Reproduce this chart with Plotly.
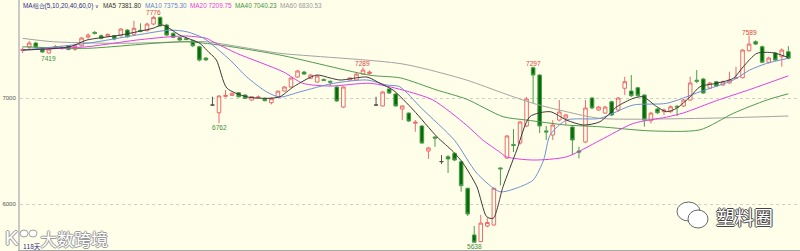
import plotly.graph_objects as go
import numpy as np

# ---------------- data ----------------
opens = [7448, 7481, 7519, 7472, 7425, 7478, 7468, 7493, 7459, 7493,
         7575, 7620, 7588, 7585, 7588, 7588, 7641, 7601, 7640, 7635,
         7698, 7761, 7689, 7610, 7569, 7560, 7541, 7484, 7377, 6934,
         6861, 7015, 7025, 7050, 7028, 6981, 7003, 6997, 6956, 7010,
         7066, 7104, 7198, 7245, 7186, 7151, 7175, 7158, 7104, 6915,
         7170, 7170, 7226, 7231, 6934, 6925, 7085, 7038, 6896, 6858,
         6762, 6736, 6500, 6632, 6400, 6446, 6478, 6399, 6148, 5708,
         5645, 5792, 5802, 6340, 6434, 6562, 6575, 6736, 7286, 7217,
         6690, 6651, 6792, 6811, 6726, 6500, 6585, 7000, 6887, 6858,
         6965, 6887, 7092, 7066, 7097, 7028, 6786, 6896, 6871, 6871,
         6922, 6925, 6981, 7168, 7179, 7094, 7154, 7123, 7142, 7186,
         7192, 7446, 7531, 7484, 7337, 7425, 7390, 7437]
highs = [7480, 7538, 7530, 7480, 7472, 7500, 7490, 7500, 7510, 7575,
         7610, 7630, 7600, 7610, 7595, 7660, 7650, 7729, 7705, 7710,
         7776, 7770, 7700, 7620, 7575, 7570, 7550, 7495, 7385, 7012,
         7025, 7075, 7050, 7055, 7035, 7018, 7025, 7005, 7003, 7070,
         7112, 7195, 7265, 7255, 7225, 7215, 7185, 7165, 7110, 7110,
         7195, 7235, 7289, 7260, 7012, 7065, 7090, 7045, 6930, 6865,
         6792, 6745, 6540, 6640, 6462, 6460, 6485, 6410, 6155, 5792,
         5896, 5865, 6155, 6345, 6650, 6707, 6785, 7010, 7297, 7225,
         6736, 6792, 6981, 6850, 6735, 6540, 6981, 7010, 6925, 6925,
         6975, 7010, 7201, 7217, 7105, 7035, 6870, 6905, 6900, 6930,
         6934, 6990, 7201, 7264, 7190, 7150, 7160, 7165, 7248, 7295,
         7460, 7589, 7545, 7495, 7390, 7435, 7469, 7490]
lows = [7425, 7462, 7470, 7425, 7419, 7465, 7455, 7450, 7445, 7488,
        7560, 7600, 7555, 7575, 7545, 7580, 7570, 7590, 7620, 7630,
        7690, 7675, 7585, 7565, 7540, 7545, 7480, 7345, 7350, 6930,
        6762, 7005, 7020, 7005, 6990, 6975, 6995, 6968, 6940, 7000,
        7060, 7100, 7190, 7220, 7180, 7145, 7160, 7115, 6965, 6905,
        7165, 7165, 7220, 7220, 6930, 6920, 7040, 6920, 6792, 6775,
        6682, 6570, 6425, 6540, 6377, 6293, 6405, 6116, 5887, 5638,
        5640, 5780, 5795, 6175, 6425, 6490, 6560, 6725, 6953, 6670,
        6604, 6604, 6780, 6745, 6462, 6430, 6575, 6895, 6880, 6850,
        6830, 6870, 7028, 7010, 7015, 6730, 6760, 6850, 6840, 6860,
        6830, 6915, 6975, 7140, 7040, 7085, 7105, 7115, 7135, 7180,
        7185, 7440, 7500, 7330, 7325, 7350, 7295, 7365]
closes = [7458, 7519, 7481, 7434, 7462, 7484, 7476, 7459, 7493, 7566,
          7594, 7610, 7563, 7600, 7557, 7651, 7578, 7658, 7630, 7698,
          7761, 7682, 7594, 7573, 7547, 7552, 7493, 7358, 7360, 6934,
          7019, 7025, 7045, 7012, 6997, 7012, 7010, 6975, 6997, 7065,
          7104, 7189, 7255, 7226, 7217, 7208, 7165, 7150, 6972, 7104,
          7189, 7226, 7264, 7245, 6934, 7057, 7047, 6925, 6925, 6783,
          6772, 6575, 6528, 6622, 6400, 6425, 6415, 6173, 5906, 5640,
          5820, 5825, 6148, 6332, 6642, 6552, 6774, 6991, 7217, 6736,
          6680, 6745, 6868, 6840, 6604, 6490, 6906, 6906, 6915, 6915,
          6840, 7000, 7154, 7022, 7022, 6792, 6858, 6861, 6887, 6918,
          6915, 6981, 7142, 7158, 7047, 7142, 7113, 7154, 7170, 7192,
          7453, 7509, 7509, 7337, 7377, 7358, 7453, 7375]
doji_days = [29, 54, 64]

ma5_days = [0, 7.2, 9.8, 14.9, 19.9, 21.4, 24.0, 27.1, 28.1, 29.6, 31.2, 34.2,
            37.3, 39.3, 41.4, 44.9, 47.0, 48.5, 52.6, 54.6, 56.6, 59.7, 63.3,
            65.8, 67.3, 69.4, 70.9, 71.9, 73.4, 75.5, 77.5, 80.6, 83.1, 85.7,
            88.2, 90.8, 93.3, 94.8, 96.9, 98.4, 99.9, 102.0, 103.5, 106.0,
            108.6, 110.1, 112.2, 114.7, 117]
ma5_vals = [7453, 7484, 7547, 7594, 7658, 7689, 7594, 7515, 7453, 7358, 7094, 7012,
            6997, 7012, 7107, 7217, 7189, 7170, 7198, 7139, 7075, 6887, 6635,
            6493, 6384, 6163, 5880, 5865, 6163, 6509, 6824, 6871, 6792, 6745,
            6776, 6918, 6997, 7012, 6918, 6871, 6903, 7012, 7107, 7139,
            7186, 7295, 7422, 7427, 7381.8]

ma10_days = [0, 9.8, 17.4, 22.5, 25.1, 27.6, 31.7, 34.2, 37.3, 39.3, 42.4, 47.5,
             52.6, 55.6, 57.6, 61.0, 66.0, 69.4, 72.9, 75.5, 78.0, 79.6, 80.6,
             83.1, 88.2, 93.3, 98.4, 103.5, 108.6, 111.1, 113.7, 117]
ma10_vals = [7453, 7516, 7594, 7641, 7625, 7566, 7358, 7201, 7057, 7009, 7059, 7139,
             7170, 7123, 7107, 6900, 6600, 6290, 6116, 6151, 6226, 6415, 6651,
             6792, 6808, 6934, 6950, 7059, 7170, 7264, 7327, 7375.3]

ma20_days = [0, 9.8, 17.4, 22.5, 25.1, 28.1, 29.1, 32.7, 39.8, 42.8, 47.0, 53.1,
             58.1, 62.7, 67.8, 70.3, 72.9, 73.9, 78.0, 83.1, 88.2, 93.3, 98.4,
             101.0, 106.0, 111.1, 117]
ma20_vals = [7453, 7484, 7547, 7578, 7585, 7563, 7531, 7422, 7248, 7139, 7113, 7139,
             7075, 6981, 6745, 6604, 6490, 6445, 6415, 6445, 6600, 6760, 6820,
             6860, 6975, 7080, 7209.75]

ma40_days = [0, 9.8, 20.0, 25.1, 30.1, 39.3, 53.1, 57.7, 63.3, 67.8, 73.4, 77.0,
             83.1, 88.2, 95.9, 103.5, 108.6, 113.7, 117]
ma40_vals = [7484, 7469, 7516, 7531, 7500, 7406, 7215, 7190, 7075, 6990, 6824, 6792,
             6745, 6729, 6690, 6700, 6856, 6981, 7040.23]

ma60_days = [0, 4.7, 14.9, 25.1, 28.1, 35.2, 39.3, 58.1, 67.8, 73.5, 78.0, 83.1,
             88.2, 103.5, 117]
ma60_vals = [7563, 7531, 7516, 7531, 7531, 7462, 7422, 7321, 7170, 7044, 6950, 6871,
             6808, 6808, 6830.53]

high_marks = [(20, 7776), (52, 7289), (78, 7297), (111, 7589)]
low_marks = [(4, 7419), (30, 6762), (69, 5638)]

y_ticks = [6000, 7000]
header_parts = [("MA组合(5,10,20,40,60,0)", 21.5, "#2b2b8a", 6.4),
                ("∨", 93.6, "#2b2b8a", 5.2),
                ("MA5 7381.80", 101.5, "#333333", 6.4),
                ("MA10 7375.30", 144, "#5f82d4", 6.4),
                ("MA20 7209.75", 189, "#e040e0", 6.4),
                ("MA40 7040.23", 234, "#3f933f", 6.4),
                ("MA60 6830.53", 278.5, "#9a9a9a", 6.4)]

# ---------------- styling ----------------
BG = "#fefee9"
UP = "#ec6b6b"
DN_FILL = "#086b08"
DN_LINE = "#4a9e4a"
W, H = 800, 251
ML, MR, MT, MB = 20, 0, 0, 1
PW, PH = W - ML - MR, H - MT - MB
X_RANGE = [-0.41, 118.78]
Y_RANGE = [5566, 7925]


def px2paper_x(px):
    return (px - ML) / PW


def px2paper_y(py):
    return 1 - (py - MT) / PH


days = np.arange(len(opens))
o, h, l, c = map(np.array, (opens, highs, lows, closes))
is_doji = np.isin(days, doji_days)
norm = ~is_doji

fig = go.Figure()

ma_specs = [(ma60_days, ma60_vals, "#a3a3a3"),
            (ma40_days, ma40_vals, "#4f9b4f"),
            (ma20_days, ma20_vals, "#e23de2"),
            (ma10_days, ma10_vals, "#6e8fd8"),
            (ma5_days, ma5_vals, "#3a3a3a")]
for xs, vs, col in ma_specs:
    fig.add_trace(go.Scatter(x=xs, y=vs, mode="lines",
                             line=dict(color=col, width=1, shape="spline", smoothing=0.7),
                             hoverinfo="skip"))

fig.add_trace(go.Candlestick(
    x=days[norm], open=o[norm], high=h[norm], low=l[norm], close=c[norm],
    increasing=dict(line=dict(color=UP, width=1), fillcolor=BG),
    decreasing=dict(line=dict(color=DN_LINE, width=1), fillcolor=DN_FILL),
    whiskerwidth=0, hoverinfo="skip"))
fig.add_trace(go.Candlestick(
    x=days[is_doji], open=o[is_doji], high=h[is_doji], low=l[is_doji], close=c[is_doji],
    increasing=dict(line=dict(color="#555555", width=1), fillcolor="#555555"),
    decreasing=dict(line=dict(color="#555555", width=1), fillcolor="#555555"),
    whiskerwidth=0, hoverinfo="skip"))

ann = []
for d, v in high_marks:
    ann.append(dict(x=d, y=v, xref="x", yref="y", text=str(v), showarrow=False,
                    yanchor="bottom", xanchor="center", yshift=-2,
                    font=dict(size=6.6, color="#e0443c", family="Liberation Sans")))
for d, v in low_marks:
    ann.append(dict(x=d, y=v, xref="x", yref="y", text=str(v), showarrow=False,
                    yanchor="top", xanchor="center", yshift=1,
                    font=dict(size=6.6, color="#3f8f3f", family="Liberation Sans")))

for txt, px, col, fs in header_parts:
    ann.append(dict(x=px2paper_x(px), y=px2paper_y(5.5), xref="paper", yref="paper",
                    text=txt, showarrow=False, xanchor="left", yanchor="middle",
                    borderpad=0,
                    font=dict(size=fs, color=col, family="Liberation Sans")))

ann.append(dict(x=px2paper_x(20.5), y=px2paper_y(245.5), xref="paper", yref="paper",
                text="118天", showarrow=False, xanchor="left", yanchor="middle",
                font=dict(size=6.5, color="#2b2b8a", family="Noto Sans CJK SC")))

# watermarks
outline_l = "-1px 0 #9a9a9a, 1px 0 #9a9a9a, 0 -1px #9a9a9a, 0 1px #9a9a9a"
ann.append(dict(x=px2paper_x(38), y=px2paper_y(238), xref="paper", yref="paper",
                text="大数跨境", showarrow=False, xanchor="left", yanchor="middle",
                font=dict(size=17, color="#ffffff", family="Noto Sans CJK SC", shadow=outline_l)))
ann.append(dict(x=px2paper_x(3), y=px2paper_y(238), xref="paper", yref="paper",
                text="K", showarrow=False, xanchor="left", yanchor="middle",
                font=dict(size=20, color="#ffffff", family="Liberation Sans", shadow=outline_l)))
outline_r = "-1px 0 #444, 1px 0 #444, 0 -1px #444, 0 1px #444"
ann.append(dict(x=px2paper_x(714), y=px2paper_y(216), xref="paper", yref="paper",
                text="塑料圈", showarrow=False, xanchor="left", yanchor="middle",
                font=dict(size=19, color="#ffffff", family="Noto Sans CJK SC", shadow=outline_r)))

shapes = []


def circ(x0, y0, x1, y1, col):
    return dict(type="circle", xref="paper", yref="paper",
                x0=px2paper_x(x0), x1=px2paper_x(x1),
                y0=px2paper_y(y1), y1=px2paper_y(y0),
                line=dict(color=col, width=1), fillcolor="#ffffff", layer="above")


shapes.append(circ(677, 202, 700, 221, "#666666"))
shapes.append(circ(688, 210, 708, 228, "#666666"))
shapes.append(circ(20, 230, 28, 237, "#a0a0a0"))
shapes.append(circ(29, 230, 37, 237, "#a0a0a0"))

fig.update_layout(
    width=W, height=H, margin=dict(l=ML, r=MR, t=MT, b=MB),
    paper_bgcolor=BG, plot_bgcolor=BG, showlegend=False, hovermode=False,
    annotations=ann, shapes=shapes, boxgap=0.22,
    xaxis=dict(range=X_RANGE, showgrid=False, zeroline=False, showticklabels=False,
               showline=True, linecolor="#a8a8a8", linewidth=1, rangeslider=dict(visible=False),
               fixedrange=True),
    yaxis=dict(range=Y_RANGE, tickvals=y_ticks, ticktext=[str(t) for t in y_ticks],
               showgrid=True, gridcolor="#cfcfcf", griddash="dot", gridwidth=1,
               zeroline=False, showline=True, linecolor="#c9c9c9", linewidth=2,
               ticks="", tickfont=dict(size=6, color="#555555", family="Liberation Sans"),
               ticklabelstandoff=1, fixedrange=True),
)

fig.write_html("out.html")
